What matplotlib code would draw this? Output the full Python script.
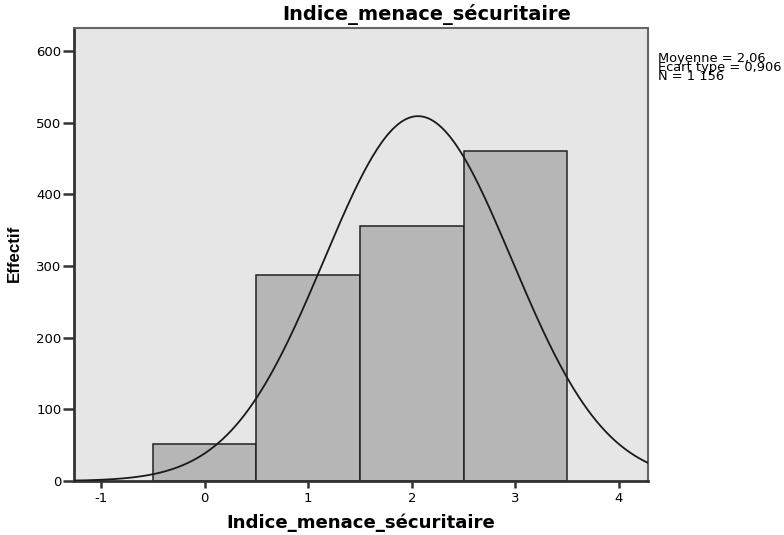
import numpy as np
import matplotlib
matplotlib.use("Agg")
import matplotlib.pyplot as plt
from matplotlib import font_manager

categories = [0, 1, 2, 3]
counts = [51, 288, 356, 461]
mean = 2.06
sd = 0.906
n = 1156
xticks = [-1, 0, 1, 2, 3, 4]
xticklabels = ['-1', '0', '1', '2', '3', '4']
yticks = [0, 100, 200, 300, 400, 500, 600]
yticklabels = ['0', '100', '200', '300', '400', '500', '600']
title = 'Indice_menace_sécuritaire'
ylabel = 'Effectif'
stats = 'Moyenne = 2,06\nEcart type = 0,906\nN = 1 156'

plt.rcParams['font.family'] = ['DejaVu Sans']

def has_font(name):
    try:
        font_manager.findfont(font_manager.FontProperties(family=name), fallback_to_default=False)
        return True
    except Exception:
        return False

narrow = 'Liberation Sans Narrow' if has_font('Liberation Sans Narrow') else 'Liberation Sans'

W, H = 784, 535
fig = plt.figure(figsize=(W/100, H/100), dpi=100)
ax = fig.add_axes([74/W, 1-481/H, (648-74)/W, (481-28)/H])
ax.set_facecolor('#e6e6e6')
ax.bar(categories, counts, width=1.0, color='#b6b6b6', edgecolor='#222222', linewidth=1.1, zorder=2)
xs = np.linspace(-1.3, 4.3, 400)
ys = n * 1.0 / (sd * np.sqrt(2*np.pi)) * np.exp(-0.5*((xs-mean)/sd)**2)
ax.plot(xs, ys, color='#1a1a1a', linewidth=1.3, zorder=3)
ax.set_xlim(-1.26, 4.28)
ax.set_ylim(0, 632)
ax.set_xticks(xticks)
ax.set_xticklabels(xticklabels)
ax.set_yticks(yticks)
ax.set_yticklabels(yticklabels)
ax.tick_params(axis='x', direction='out', length=5, width=1.8, color='#333333', labelsize=9.5, pad=3)
ax.tick_params(axis='y', direction='out', length=8, width=1.8, color='#333333', labelsize=9.5, pad=1)
for s in ['left', 'bottom']:
    ax.spines[s].set_linewidth(2.0)
    ax.spines[s].set_color('#333333')
for s in ['top', 'right']:
    ax.spines[s].set_linewidth(1.5)
    ax.spines[s].set_color('#666666')

t_title = fig.text(426.5/W, 1-20/H, title, fontsize=13, fontweight='bold', ha='center', va='baseline')
t_xlab = fig.text(361/W, 1-528/H, title, fontsize=13, fontweight='bold', ha='center', va='baseline')
t_ylab = fig.text(14/W, 1-253/H, ylabel, fontsize=12, fontweight='bold', family=narrow,
                  rotation=90, ha='center', va='center')
t_stats = fig.text(658/W, 1-52/H, stats, fontsize=9, ha='left', va='top', linespacing=0.62)

def fit_width(t, target, vertical=False):
    fig.canvas.draw()
    r = fig.canvas.get_renderer()
    bb = t.get_window_extent(renderer=r)
    cur = bb.height if vertical else bb.width
    t.set_fontsize(t.get_fontsize() * target / cur)

fit_width(t_title, 287)
fit_width(t_xlab, 268)
fit_width(t_ylab, 57, vertical=True)
fit_width(t_stats, 124)

fig.canvas.draw()
fig.savefig('out.png', dpi=100)
